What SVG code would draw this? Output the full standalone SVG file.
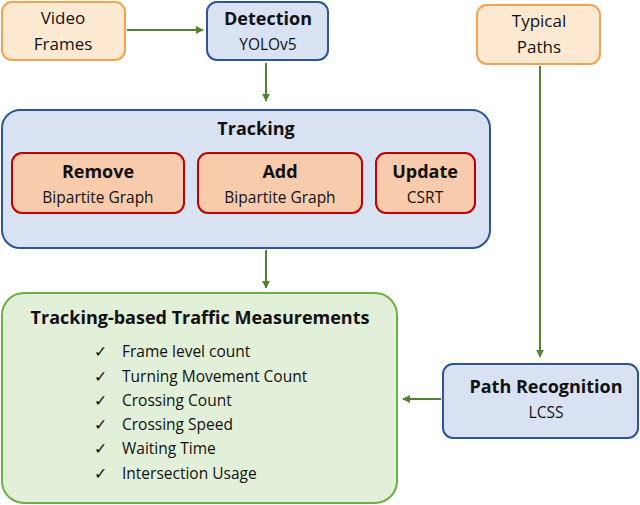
<svg xmlns="http://www.w3.org/2000/svg" width="640" height="505" viewBox="0 0 640 505">
<style>
text{font-family:"Open Sans","Liberation Sans",sans-serif;fill:#111;text-anchor:middle}
.b{font-weight:bold;font-size:18px}
.n{font-size:15.5px}
.l{font-size:15.5px;text-anchor:start}
.or{fill:#fde9d2;stroke:#f4a250;stroke-width:2}
.bl{fill:#d9e2f3;stroke:#2f5597;stroke-width:2}
.rd{fill:#f8cbad;stroke:#c00000;stroke-width:2}
.gr{fill:#e2f0d9;stroke:#70ad47;stroke-width:2}
.c{stroke:#548235;stroke-width:2;fill:none;marker-end:url(#a)}
</style>
<defs><marker id="a" viewBox="0 0 10 10" refX="9" refY="5" markerWidth="4" markerHeight="4" orient="auto"><path d="M0 0L10 5L0 10z" fill="#548235"/></marker></defs>
<g id="connectors">
<path class="c" d="M127 30H203"/>
<path class="c" d="M266 63V101"/>
<path class="c" d="M266 250V288"/>
<path class="c" d="M540 66V357"/>
<path class="c" d="M441 399H403"/>
</g>
<g id="video"><rect class="or" x="2" y="2" width="123" height="58" rx="10"/><text class="n" x="63" y="24" style="font-size:17px">Video</text><text class="n" x="63" y="50" style="font-size:17px">Frames</text></g>
<g id="detection"><rect class="bl" x="207" y="2" width="121" height="58" rx="10"/><text class="b" x="268" y="25">Detection</text><text class="n" x="268" y="50">YOLOv5</text></g>
<g id="typical"><rect class="or" x="477" y="5" width="123" height="59" rx="10"/><text class="n" x="539" y="27" style="font-size:17px">Typical</text><text class="n" x="539" y="53" style="font-size:17px">Paths</text></g>
<g id="tracking"><rect class="bl" x="2" y="110" width="488" height="138" rx="18"/><text class="b" x="256" y="135">Tracking</text></g>
<g id="remove"><rect class="rd" x="12" y="153" width="172" height="60" rx="10"/><text class="b" x="98" y="178">Remove</text><text class="n" x="98" y="203">Bipartite Graph</text></g>
<g id="add"><rect class="rd" x="198" y="153" width="164" height="60" rx="10"/><text class="b" x="280" y="178">Add</text><text class="n" x="280" y="203">Bipartite Graph</text></g>
<g id="update"><rect class="rd" x="376" y="153" width="99" height="60" rx="10"/><text class="b" x="425" y="178">Update</text><text class="n" x="425" y="203">CSRT</text></g>
<g id="measurements"><rect class="gr" x="2" y="293" width="395" height="210" rx="22"/><text class="b" x="200" y="324">Tracking-based Traffic Measurements</text>
<g class="l"><text class="l" x="94" y="357">✓</text><text class="l" x="122" y="357">Frame level count</text>
<text class="l" x="94" y="382">✓</text><text class="l" x="122" y="382">Turning  Movement Count</text>
<text class="l" x="94" y="406">✓</text><text class="l" x="122" y="406">Crossing Count</text>
<text class="l" x="94" y="430">✓</text><text class="l" x="122" y="430">Crossing Speed</text>
<text class="l" x="94" y="454">✓</text><text class="l" x="122" y="454">Waiting Time</text>
<text class="l" x="94" y="479">✓</text><text class="l" x="122" y="479">Intersection Usage</text></g></g>
<g id="path"><rect class="bl" x="443" y="364" width="195" height="74" rx="10"/><text class="b" x="546" y="393">Path Recognition</text><text class="n" x="546" y="418">LCSS</text></g>
</svg>
